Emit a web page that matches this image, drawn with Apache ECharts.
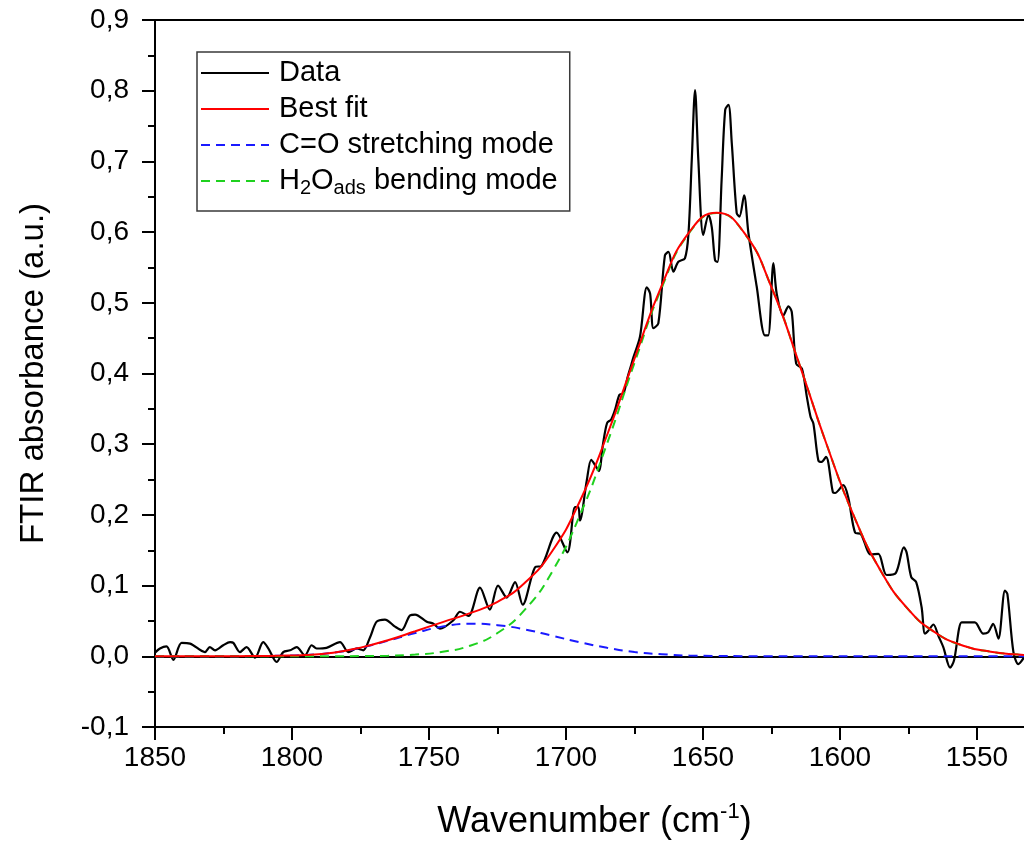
<!DOCTYPE html>
<html>
<head>
<meta charset="utf-8">
<script src="https://cdn.jsdelivr.net/npm/echarts@6/dist/echarts.min.js"></script>
<style>
html,body{margin:0;padding:0;background:#fff;}
#chart{width:1024px;height:845px;}
</style>
</head>
<body>
<div id="chart"></div>
<script>
// ---- Data ----
const dataW = [1850.0,1848.2,1845.8,1843.3,1840.3,1837.2,1831.8,1830.0,1828.1,1825.1,1822.6,1821.4,1819.0,1816.6,1813.5,1810.5,1808.6,1805.6,1803.2,1800.7,1798.3,1795.3,1792.8,1791.0,1787.4,1782.5,1779.4,1776.4,1774.0,1771.5,1769.1,1766.1,1762.4,1760.0,1756.9,1755.1,1750.8,1748.4,1746.0,1741.1,1738.7,1735.6,1731.4,1727.8,1724.8,1721.6,1718.6,1715.8,1711.3,1708.9,1703.4,1699.5,1696.7,1695.5,1694.9,1692.4,1690.8,1689.3,1688.0,1686.5,1685.0,1683.5,1682.0,1680.5,1679.0,1677.5,1676.2,1675.4,1673.0,1670.5,1669.3,1668.1,1666.3,1663.9,1662.6,1660.8,1659.0,1656.6,1655.3,1654.1,1652.9,1651.7,1649.9,1648.0,1646.8,1645.6,1644.7,1643.2,1641.9,1640.7,1639.5,1637.7,1636.7,1635.0,1633.4,1630.4,1627.4,1626.2,1624.3,1623.1,1620.7,1618.8,1617.6,1616.0,1613.9,1612.1,1610.7,1609.7,1607.9,1606.7,1605.1,1602.6,1601.8,1598.8,1597.0,1594.5,1592.4,1588.7,1586.0,1583.0,1579.6,1576.7,1575.7,1574.0,1572.2,1570.2,1569.0,1567.8,1565.9,1564.1,1562.3,1559.8,1558.4,1555.6,1553.8,1550.8,1547.7,1545.9,1544.1,1542.2,1539.8,1538.9,1536.7,1534.9,1532.9];
const dataV = [0.005,0.011,0.014,-0.005,0.019,0.018,0.006,0.013,0.0085,0.0156,0.020,0.019,0.006,0.013,-0.002,0.020,0.011,-0.008,0.006,0.0085,0.013,0.0014,0.0156,0.011,0.012,0.020,0.006,0.011,0.0085,0.027,0.049,0.052,0.042,0.037,0.058,0.059,0.049,0.046,0.039,0.051,0.063,0.057,0.097,0.066,0.100,0.083,0.105,0.073,0.126,0.128,0.175,0.147,0.211,0.211,0.192,0.249,0.278,0.270,0.262,0.300,0.330,0.335,0.350,0.370,0.372,0.395,0.412,0.423,0.452,0.522,0.513,0.464,0.471,0.567,0.572,0.544,0.558,0.563,0.598,0.702,0.801,0.702,0.596,0.624,0.607,0.560,0.558,0.674,0.773,0.780,0.726,0.627,0.622,0.652,0.598,0.523,0.454,0.454,0.556,0.513,0.482,0.495,0.487,0.414,0.407,0.367,0.338,0.329,0.277,0.275,0.282,0.232,0.231,0.242,0.225,0.175,0.173,0.144,0.145,0.115,0.118,0.154,0.147,0.112,0.105,0.069,0.032,0.036,0.045,0.029,0.013,-0.016,-0.006,0.048,0.048,0.048,0.032,0.034,0.046,0.025,0.093,0.088,0.006,-0.011,-0.002];

const fitW = [1850,1845,1835,1825,1815,1805,1795,1785,1775,1765,1755,1745,1735,1725,1715,1705,1695,1685,1675,1665,1655,1645,1635,1625,1615,1605,1595,1585,1575,1565,1555,1545,1535,1530];
const bestFit = [0,0,0,0.0001,0.0003,0.0008,0.0018,0.0051,0.0123,0.0228,0.0354,0.0484,0.061,0.077,0.104,0.149,0.219,0.313,0.421,0.525,0.600,0.6275,0.5992,0.522,0.415,0.301,0.199,0.120,0.066,0.033,0.015,0.0064,0.0024,0.0015];
const coMode = [0,0,0,0.0001,0.0003,0.0008,0.0018,0.005,0.012,0.022,0.033,0.042,0.046,0.044,0.038,0.029,0.020,0.012,0.006,0.003,0.001,0.0005,0.0002,0,0,0,0,0,0,0,0,0,0,0];
const h2oMode = [0,0,0,0,0,0,0,0.0001,0.0003,0.0008,0.0024,0.0064,0.015,0.033,0.066,0.120,0.199,0.301,0.415,0.522,0.599,0.627,0.599,0.522,0.415,0.301,0.199,0.120,0.066,0.033,0.015,0.0064,0.0024,0.0015];

const seriesNames = ['Data','Best fit','C=O stretching mode','H2Oads bending mode'];
const xTicks = {min:1500, max:1850, interval:50};
const yTicks = {min:-0.1, max:0.9, interval:0.1};

function pairs(xs, ys){ return xs.map((x,i)=>[x, ys[i]]); }

const FONT = '"Liberation Sans", Arial, sans-serif';
const chart = echarts.init(document.getElementById('chart'), null, {renderer:'canvas'});

chart.setOption({
  animation:false,
  backgroundColor:'#fff',
  grid:{left:155, top:20, width:959, height:707, show:true, borderColor:'#000', borderWidth:2,
        backgroundColor:'transparent', containLabel:false, outerBoundsMode:'none'},
  legend:{
    orient:'vertical', left:197, top:52,
    itemWidth:68, itemHeight:14, itemGap:2,
    padding:[4,12,13,3],
    borderColor:'#3a3a3a', borderWidth:1.5,
    data:seriesNames,
    itemStyle:{opacity:0},
    formatter:function(name){
      if(name==='H2Oads bending mode') return 'H{sub|2}O{sub|ads} bending mode';
      return name;
    },
    textStyle:{
      fontFamily:FONT, fontSize:29, color:'#000', lineHeight:34, padding:[0,0,0,5],
      rich:{sub:{fontFamily:FONT, fontSize:20, color:'#000', lineHeight:20, verticalAlign:'bottom'}}
    }
  },
  xAxis:{
    type:'value', inverse:true, min:xTicks.min, max:xTicks.max, interval:xTicks.interval,
    name:'Wavenumber (cm{sup|-1})', nameLocation:'middle', nameGap:74,
    nameTextStyle:{fontFamily:FONT, fontSize:36, color:'#000', lineHeight:42, padding:[0,80,0,0],
      rich:{sup:{fontFamily:FONT, fontSize:22, color:'#000', lineHeight:22, verticalAlign:'top'}}},
    axisLine:{onZero:false, lineStyle:{color:'#000', width:2}},
    axisTick:{show:true, inside:false, length:13, lineStyle:{color:'#000', width:2}},
    minorTick:{show:true, splitNumber:2, length:7, lineStyle:{color:'#000', width:2}},
    axisLabel:{fontFamily:FONT, fontSize:28, color:'#000', margin:17,
      formatter:function(v){ return String(v); }},
    splitLine:{show:false}
  },
  yAxis:{
    type:'value', min:yTicks.min, max:yTicks.max, interval:yTicks.interval,
    name:'FTIR absorbance (a.u.)', nameLocation:'middle', nameGap:105,
    nameTextStyle:{fontFamily:FONT, fontSize:33, color:'#000'},
    axisLine:{onZero:false, lineStyle:{color:'#000', width:2}},
    axisTick:{show:true, inside:false, length:13, lineStyle:{color:'#000', width:2}},
    minorTick:{show:true, splitNumber:2, length:7, lineStyle:{color:'#000', width:2}},
    axisLabel:{fontFamily:FONT, fontSize:28, color:'#000', margin:26,
      formatter:function(v){ return v.toFixed(1).replace('.', ','); }},
    splitLine:{show:false}
  },
  series:[
    {name:seriesNames[0], type:'line', data:pairs(dataW,dataV), showSymbol:false, symbol:'none', smooth:0.3,
     lineStyle:{color:'#000', width:2.2}, itemStyle:{color:'#000'}, z:3,
     markLine:{silent:true, symbol:'none', label:{show:false}, lineStyle:{color:'#000', width:2, type:'solid'},
       data:[{yAxis:0}], z:1}},
    {name:seriesNames[1], type:'line', data:pairs(fitW,bestFit), showSymbol:false, symbol:'none', smooth:true,
     lineStyle:{color:'#ff0000', width:2}, itemStyle:{color:'#ff0000'}, z:6},
    {name:seriesNames[2], type:'line', data:pairs(fitW,coMode), showSymbol:false, symbol:'none', smooth:true,
     lineStyle:{color:'#1a1aff', width:2, type:[9,6]}, itemStyle:{color:'#1a1aff'}, z:4},
    {name:seriesNames[3], type:'line', data:pairs(fitW,h2oMode), showSymbol:false, symbol:'none', smooth:true,
     lineStyle:{color:'#1fd11f', width:2, type:[9,6]}, itemStyle:{color:'#1fd11f'}, z:5}
  ]
});
</script>
</body>
</html>
